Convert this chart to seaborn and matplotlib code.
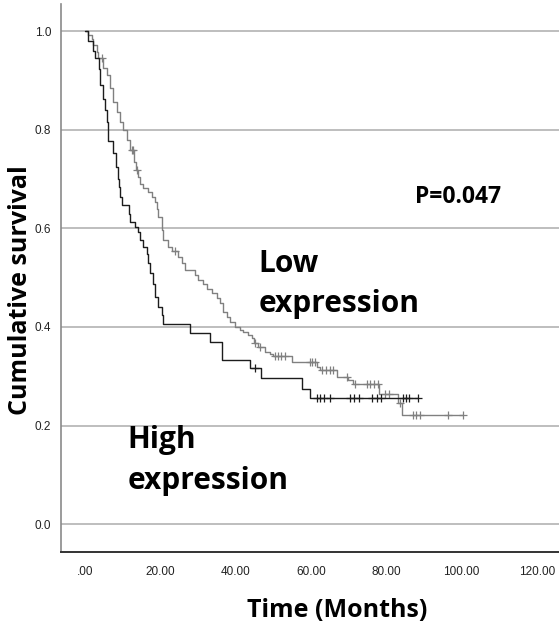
import numpy as np
import pandas as pd
import matplotlib
matplotlib.use("Agg")
import matplotlib.pyplot as plt
import seaborn as sns

# ---------------- data ----------------
# High expression group (black): event times (months) and survival after event
times_high = [0, 0.8, 2.1, 2.6, 3.6, 4.1, 4.9, 5.3, 5.8, 6.2, 7.5, 8.2, 8.7, 9.0,
              9.3, 9.7, 11.8, 12.0, 13.3, 14.0, 14.6, 15.5, 16.4, 16.8, 17.3,
              18.0, 18.6, 19.5, 20.4, 20.8, 27.9, 33.2, 36.3, 43.8, 46.7, 57.6,
              59.8, 88.4]
surv_high = [1.0, 0.98, 0.96, 0.945, 0.924, 0.89, 0.863, 0.84, 0.816, 0.777,
             0.752, 0.725, 0.701, 0.684, 0.664, 0.647, 0.630, 0.613, 0.603,
             0.593, 0.576, 0.562, 0.549, 0.529, 0.509, 0.488, 0.461, 0.441,
             0.424, 0.407, 0.388, 0.370, 0.334, 0.316, 0.296, 0.275, 0.255,
             0.255]
censor_high = [45.2, 61.6, 62.5, 63.5, 65.1, 70.4, 71.4, 72.8, 76.3, 77.5,
               78.6, 84.5, 85.3, 86.0, 88.4]

# Low expression group (gray)
times_low = [0, 0.9, 1.8, 2.2, 3.1, 3.5, 4.9, 5.8, 6.6, 7.5, 8.4, 9.3, 10.2,
             11.1, 12.0, 13.1, 13.5, 14.2, 14.6, 15.5, 16.8, 17.7, 18.6, 19.0,
             19.5, 20.4, 20.8, 22.1, 23.0, 24.8, 25.7, 26.6, 29.2, 30.1, 31.4,
             32.3, 33.7, 35.0, 35.9, 36.7, 37.6, 38.5, 39.8, 41.2, 42.0, 43.4,
             44.3, 45.0, 46.0, 47.8, 49.1, 50.0, 54.9, 61.5, 62.4, 66.9, 69.9,
             71.3, 78.2, 83.2, 84.1, 100.5]
surv_low = [1.0, 0.992, 0.985, 0.972, 0.958, 0.945, 0.925, 0.911, 0.884, 0.857,
            0.836, 0.816, 0.799, 0.779, 0.759, 0.735, 0.718, 0.704, 0.691,
            0.681, 0.674, 0.664, 0.654, 0.640, 0.623, 0.596, 0.576, 0.562,
            0.555, 0.542, 0.529, 0.515, 0.505, 0.495, 0.488, 0.478, 0.468,
            0.458, 0.448, 0.431, 0.420, 0.410, 0.400, 0.394, 0.390, 0.383,
            0.377, 0.367, 0.360, 0.350, 0.346, 0.341, 0.329, 0.319, 0.312,
            0.299, 0.292, 0.285, 0.265, 0.245, 0.221, 0.221]
censor_low = [4.4, 12.4, 12.8, 13.8, 23.9, 45.2, 46.5, 50.4, 51.2, 52.0, 53.1,
              59.8, 60.3, 61.1, 62.9, 63.9, 65.0, 66.0, 69.5, 71.7, 74.8, 75.8,
              76.7, 77.9, 79.7, 80.8, 83.7, 87.1, 88.0, 89.0, 96.5, 100.5]

x_ticks = [0, 20, 40, 60, 80, 100, 120]
x_ticklabels = [".00", "20.00", "40.00", "60.00", "80.00", "100.00", "120.00"]
y_ticks = [0.0, 0.2, 0.4, 0.6, 0.8, 1.0]
y_ticklabels = ["0.0", "0.2", "0.4", "0.6", "0.8", "1.0"]

# ---------------- style ----------------
sns.set_theme(style="white")
plt.rcParams["font.family"] = ["Open Sans", "DejaVu Sans"]

GRAY = "#808080"
BLACK = "#1c1c1c"

fig = plt.figure(figsize=(5.59, 6.27), dpi=100)
ax = fig.add_axes([0.109, 0.120, 0.891, 0.8735])


def step_value(times, surv, t):
    idx = np.searchsorted(times, t, side="right") - 1
    return surv[idx]


df_low = pd.DataFrame({"t": times_low, "s": surv_low})
df_high = pd.DataFrame({"t": times_high, "s": surv_high})

for y in y_ticks:
    ax.axhline(y, color="#b9b9b9", lw=1.3, zorder=0)

sns.lineplot(data=df_low, x="t", y="s", ax=ax, color=GRAY, lw=1.0,
             drawstyle="steps-post", estimator=None, zorder=3)
sns.lineplot(data=df_high, x="t", y="s", ax=ax, color=BLACK, lw=1.0,
             drawstyle="steps-post", estimator=None, zorder=4)

cl = pd.DataFrame({"t": censor_low,
                   "s": [step_value(times_low, surv_low, t) for t in censor_low]})
ch = pd.DataFrame({"t": censor_high,
                   "s": [step_value(times_high, surv_high, t) for t in censor_high]})
sns.scatterplot(data=cl, x="t", y="s", ax=ax, marker="+", color=GRAY, s=40,
                linewidth=0.9, zorder=3)
sns.scatterplot(data=ch, x="t", y="s", ax=ax, marker="+", color=BLACK, s=40,
                linewidth=0.9, zorder=4)

ax.set_xlim(-6.4, 125.9)
ax.set_ylim(-0.056, 1.055)
ax.set_xticks(x_ticks)
ax.set_xticklabels(x_ticklabels)
ax.set_yticks(y_ticks)
ax.set_yticklabels(y_ticklabels)
tick_font = ["Liberation Sans", "DejaVu Sans"]
for lab in ax.get_xticklabels() + ax.get_yticklabels():
    lab.set_fontfamily(tick_font)
    lab.set_fontsize(8.5)
    lab.set_color("#222222")
ax.tick_params(axis="x", length=0, pad=10)
ax.tick_params(axis="y", length=0, pad=7)

for side in ["top", "right"]:
    ax.spines[side].set_visible(False)
ax.spines["left"].set_color("#8a8a8a")
ax.spines["left"].set_linewidth(1.2)
ax.spines["bottom"].set_color("#333333")
ax.spines["bottom"].set_linewidth(1.4)

ax.set_xlabel("Time (Months)", fontsize=18, fontweight="bold", color="black",
              va="center")
ax.xaxis.set_label_coords(0.555, -0.108)
ax.set_ylabel("Cumulative survival", fontsize=18, fontweight="bold",
              color="black", va="center")
ax.yaxis.set_label_coords(-0.082, 0.478)

txt = dict(fontsize=21.5, fontweight="bold", color="black", va="baseline",
           ha="left")
ax.text(46.0, 0.512, "Low", **txt)
ax.text(46.0, 0.431, "expression", **txt)
ax.text(11.2, 0.154, "High", **txt)
ax.text(11.2, 0.071, "expression", **txt)
ax.text(87.6, 0.651, "P=0.047", fontsize=16.5, fontweight="bold",
        color="black", va="baseline", ha="left")

fig.savefig("out.png", dpi=100)
